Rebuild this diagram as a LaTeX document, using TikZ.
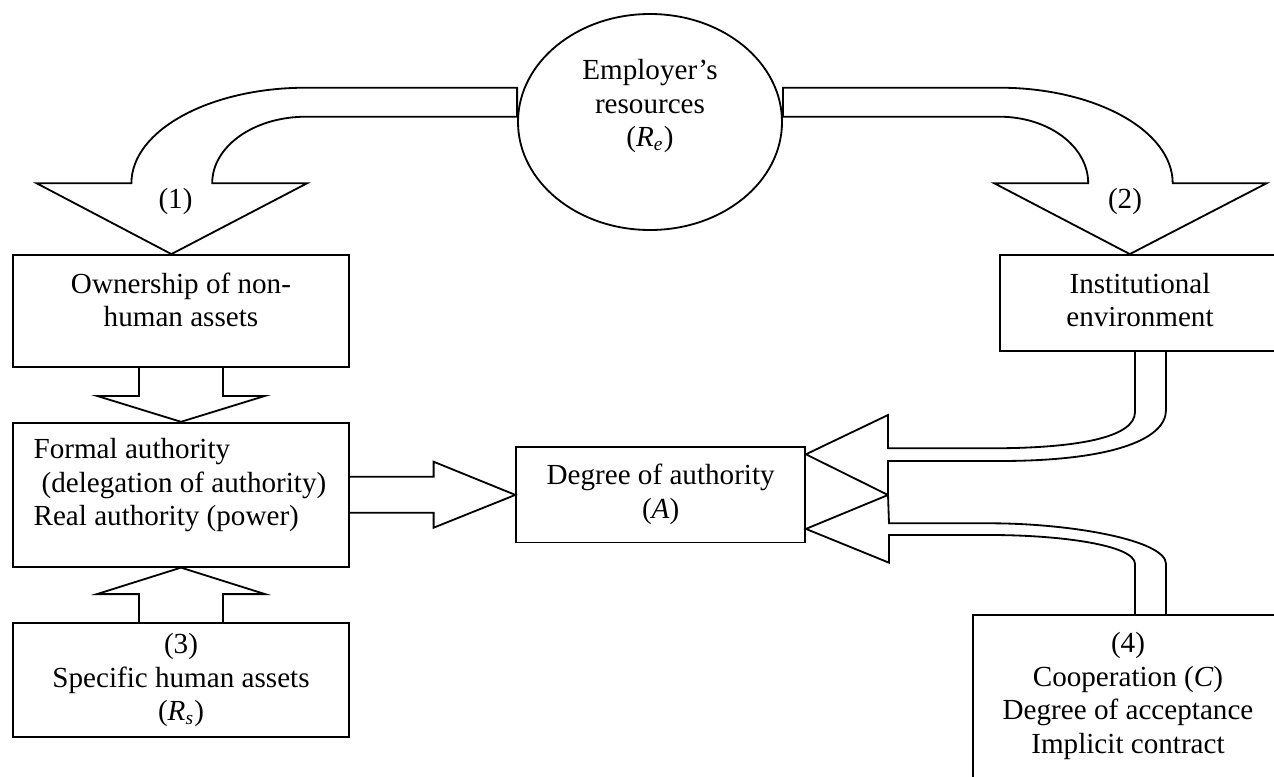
\documentclass[tikz,border=0pt]{standalone}
\usepackage{fontspec}
\setmainfont{Liberation Serif}
\usetikzlibrary{shapes.geometric,calc}

\newcommand{\px}{0.412pt}

\begin{document}
\begin{tikzpicture}[x=0.412pt, y=-0.412pt, line width=0.75pt, line join=miter]
\tikzstyle{every node}=[font=\fontsize{12}{13.8}\selectfont, inner sep=0pt];
\tikzstyle{box}=[draw, shape=rectangle];
\tikzstyle{txt}=[align=center];
\tikzstyle{blk}=[draw];
\useasboundingbox (0,0) rectangle (1274,776);
\clip (0,0) rectangle (1274,776);

\node[draw, shape=ellipse, minimum width=264*\px, minimum height=216*\px] (emp) at (650,122) {};
\node[box, minimum width=336*\px, minimum height=111.7*\px] (own) at (181,310.85) {};
\node[box, minimum width=336*\px, minimum height=144*\px] (formal) at (181,494.7) {};
\node[box, minimum width=336*\px, minimum height=113.4*\px] (spec) at (181,680) {};
\node[box, minimum width=288.7*\px, minimum height=95.2*\px] (degree) at (660.65,494.9) {};
\node[box, minimum width=280*\px, minimum height=96*\px] (inst) at (1140,303) {};
\node[box, minimum width=310.3*\px, minimum height=185*\px] (coop) at (1128,707.5) {};

\node[txt] (empT) at (650,106) {Employer’s\\resources\\(\textit{R}\textsubscript{\textit{e}})};
\node[txt] (ownT) at (181,300) {Ownership of non-\\human assets};
\node[anchor=west, align=left] (formalT) at (32.7,485.5) {Formal authority\\\hspace*{3.3pt}(delegation of authority)\\Real authority (power)};
\node[txt] (specT) at (181,680) {(3)\\Specific human assets\\(\textit{R}\textsubscript{\textit{s}})};
\node[txt] (degreeT) at (660.65,494.5) {Degree of authority\\(\textit{A})};
\node[txt] (instT) at (1140,300) {Institutional\\environment};
\node[txt] (coopT) at (1128,696) {(4)\\Cooperation (\textit{C})\\Degree of acceptance\\Implicit contract};
\node (lab1) at (175.5,201.7) {(1)};
\node (lab2) at (1125,201.7) {(2)};

% curved arrows from the resources
\draw[blk] ($(emp.west)+(0,-34.3)$) -- (306,87.7) .. controls (209.6,87.7) and (131.4,130.5) .. (131.4,183.3) -- (36.7,183.3) -- ($(own.north)+(-9.6,0)$) -- (307,183.3) -- (212.2,183.3) .. controls (212.2,146.1) and (254.2,116.7) .. (306,116.7) -- ($(emp.west)+(0,-5.3)$) -- cycle;
\draw[blk] ($(emp.east)+(0,-34.3)$) -- (999.2,87.7) .. controls (1095,87.7) and (1172.7,130.5) .. (1172.7,183.3) -- (1266.5,183.3) -- ($(inst.north)+(-10.2,0)$) -- (994.3,183.3) -- (1088.2,183.3) .. controls (1088.2,146.1) and (1048.3,116.7) .. (999.2,116.7) -- ($(emp.east)+(0,-5.3)$) -- cycle;

% block arrows on the left
\draw[blk] ($(own.south)+(-42,0)$) -- ($(own.south)+(-42,28.3)$) -- ($(own.south)+(-84,28.3)$) -- (formal.north) -- ($(own.south)+(84,28.3)$) -- ($(own.south)+(42,28.3)$) -- ($(own.south)+(42,0)$);
\draw[blk] ($(spec.north)+(-42,0)$) -- ($(spec.north)+(-42,-28.3)$) -- ($(spec.north)+(-84,-28.3)$) -- (formal.south) -- ($(spec.north)+(84,-28.3)$) -- ($(spec.north)+(42,-28.3)$) -- ($(spec.north)+(42,0)$);
\draw[blk] ($(formal.east)+(0,-18)$) -- ($(formal.east)+(83.7,-18)$) -- ($(formal.east)+(83.7,-33)$) -- (degree.west) -- ($(formal.east)+(83.7,33)$) -- ($(formal.east)+(83.7,18)$) -- ($(formal.east)+(0,18)$);

% curved arrows on the right
\draw[blk] ($(inst.south)+(-5,0)$) -- (1135,412) .. controls (1135,438) and (1075,448.3) .. (990,448.3) -- (888,448.3) -- (888,415) -- ($(degree.east)+(0,-40.6)$) -- (888,495) -- (888,461) -- (1000,461) .. controls (1110,461) and (1166,440) .. (1166,410) -- ($(inst.south)+(26,0)$);
\draw[blk] ($(coop.north)+(7,0)$) -- (1135,564) .. controls (1135,545) and (1060,535) .. (990,535) -- (889,535) -- (889,562.7) -- ($(degree.east)+(0,34)$) -- (888,495) -- (889,523.3) -- (990,523.3) .. controls (1070,523.3) and (1166,540) .. (1166,564) -- ($(coop.north)+(38,0)$);
\end{tikzpicture}
\end{document}
